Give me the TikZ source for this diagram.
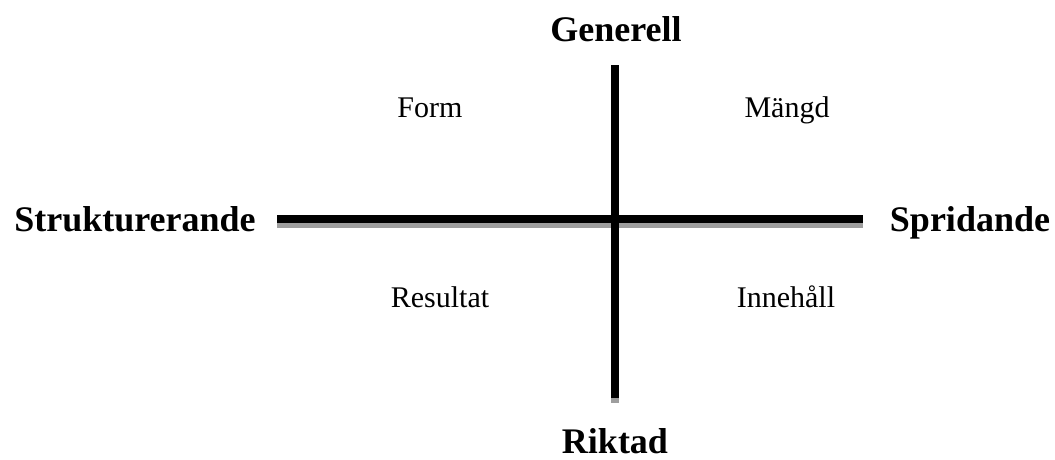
\documentclass[tikz,border=0pt]{standalone}
\usepackage{fontspec}
\setmainfont{Liberation Serif}

\begin{document}
\begin{tikzpicture}[x=1pt, y=-1pt]

	\useasboundingbox (0,0) rectangle (1055,459);

	\tikzset{
		axel/.style={line width=8.5pt, black},
		skugga/.style={line width=8.5pt, black!38},
		pol/.style={font=\fontsize{36}{43}\selectfont\bfseries, anchor=base, inner sep=0pt},
		falt/.style={font=\fontsize{30}{36}\selectfont, anchor=base, inner sep=0pt}
	}

	% ändpunkter för axlarna
	\coordinate (vanster) at (277,219);
	\coordinate (hoger)   at (863,219);
	\coordinate (topp)    at (615,65);
	\coordinate (botten)  at (615,398);

	% skuggor först, sedan axlarna
	\begin{scope}[transform canvas={yshift=-4.5pt}]
		\draw[skugga] (vanster) -- (hoger);
		\draw[skugga] (topp) -- (botten);
	\end{scope}
	\draw[axel] (vanster) -- (hoger);
	\draw[axel] (topp) -- (botten);

	% polerna
	\node[pol] (generell) at (616,41)  {Generell};
	\node[pol] (riktad)   at (615,453) {Riktad};
	\node[pol] (struktur) at (135,231) {Strukturerande};
	\node[pol] (sprid)    at (970,231) {Spridande};

	% fälten
	\node[falt] (form)     at (430,117) {Form};
	\node[falt] (mangd)    at (787,117) {Mängd};
	\node[falt] (resultat) at (440,307) {Resultat};
	\node[falt] (innehall) at (786,307) {Innehåll};

\end{tikzpicture}
\end{document}
